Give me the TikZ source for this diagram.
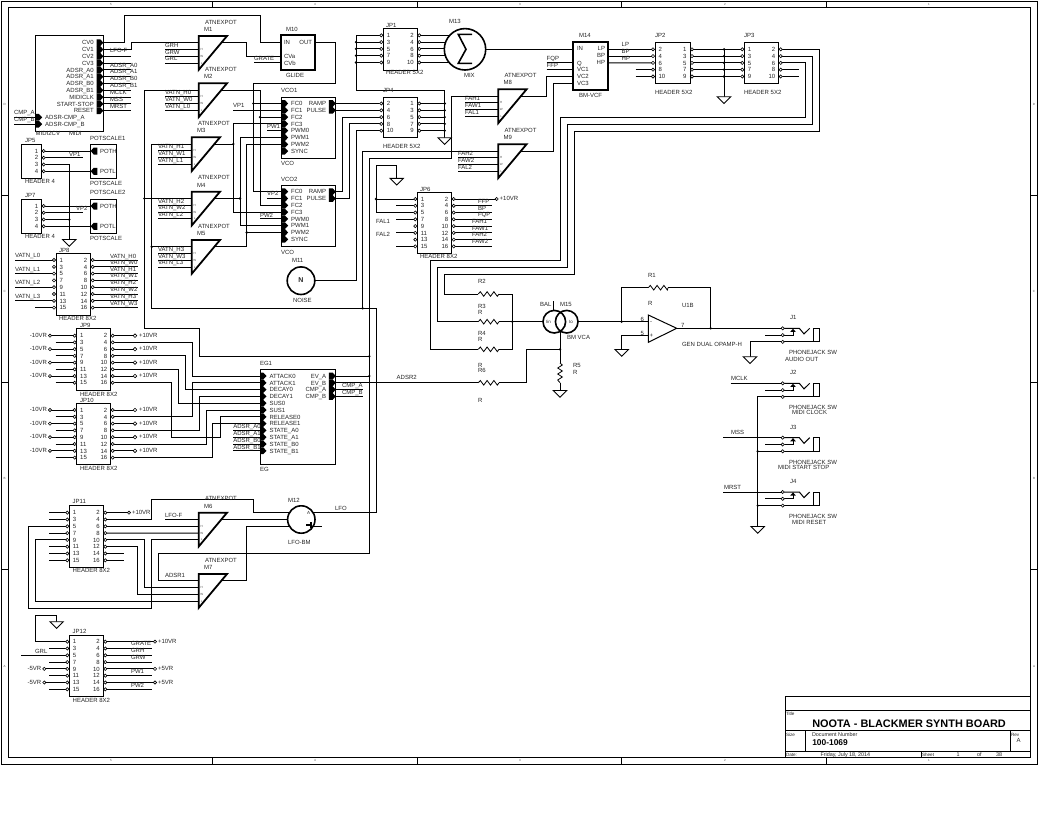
\documentclass[tikz,border=0pt]{standalone}
\usepackage{fontspec}
\setmainfont{Liberation Sans}
\usetikzlibrary{calc}
\pgfdeclarelayer{bg}\pgfdeclarelayer{wires}\pgfsetlayers{bg,wires,main}
\newcount\labn
\tikzset{
  wire/.style={line width=1pt,draw=black},
  fr/.style={line width=1pt,draw=black},
  bx/.style={draw=black,line width=1pt,fill=white,anchor=north west,inner sep=0pt,outer sep=0pt},
  bxt/.style={bx,line width=2pt},
  pinc/.style={draw=black,line width=0.6pt,fill=white},
  lab/.style={inner sep=0pt,outer sep=0pt,text height=4.4pt,text depth=0pt,font=\fontsize{6}{7}\selectfont,text=black!85},
  tiny/.style={inner sep=0pt,outer sep=0pt,font=\fontsize{3}{3}\selectfont,text=black!70},
  bigt/.style={inner sep=0pt,outer sep=0pt,anchor=west,font=\fontsize{10.9}{12}\bfseries\selectfont},
  numt/.style={inner sep=0pt,outer sep=0pt,anchor=west,font=\fontsize{8.4}{10}\bfseries\selectfont},
  comp/.style={draw=black,line width=1.8pt,fill=white},
  roundc/.style={circle,draw=black,line width=1.6pt,fill=white,inner sep=0pt,outer sep=0pt},
}
\newcommand{\lbl}[4][west]{\global\advance\labn by 1 \node[lab,anchor=#1] (t\the\labn) at (#2,#3) {#4};}
\newcommand{\tk}[3]{\global\advance\labn by 1 \node[tiny] (t\the\labn) at (#1,#2) {#3};}
\newcommand{\jn}[2]{\fill[black] (#1,#2) circle (1.3);}
\newcommand{\wto}[2]{\draw[wire] (#1) -- (#2,0 |- #1);}
\newcommand{\hvh}[3]{\draw[wire] (#1) -| (#2,0 |- #3) -- (#3);}
\newcommand{\hdrbox}[9]{%
  \node[bx,minimum width=#4pt,minimum height=#5pt] (#1) at (#2,#3) {};
  \foreach \i in {1,...,#8}{%
    \pgfmathsetmacro\yy{#6+(\i-1)*#7}%
    \pgfmathsetmacro\xr{#2+#4}%
    \pgfmathtruncatemacro\nl{#9+2*(\i-1)}%
    \pgfmathtruncatemacro\nr{3-#9+2*(\i-1)}%
    \coordinate (#1-\nl) at (#2-2,\yy);
    \coordinate (#1-\nr) at (\xr+2,\yy);
    \draw[pinc] (#2-2,\yy) circle (1.6);
    \draw[pinc] (\xr+2,\yy) circle (1.6);
    \lbl{#2+3.5}{\yy}{\nl}
    \lbl[east]{\xr-3.5}{\yy}{\nr}
  }}
\newcommand{\hdrone}[6]{%
  \node[bx,minimum width=#4pt,minimum height=#5pt] (#1) at (#2,#3) {};
  \foreach \i in {1,2,3,4}{%
    \pgfmathsetmacro\yy{#6+(\i-1)*6.75}%
    \pgfmathsetmacro\xr{#2+#4}%
    \coordinate (#1-\i) at (\xr+2,\yy);
    \draw[pinc] (\xr+2,\yy) circle (1.6);
    \lbl[east]{\xr-3.5}{\yy}{\i}
  }}
\newcommand{\pinL}[4]{\coordinate (#1) at (#2,#3);
  \fill[black] (#2,#3-3.4) -- (#2+3.2,#3-3.4) -- (#2+6.5,#3) -- (#2+3.2,#3+3.4) -- (#2,#3+3.4) -- cycle;
  \lbl{#2+9.5}{#3}{#4}}
\newcommand{\pinR}[4]{\coordinate (#1) at (#2,#3);
  \fill[black] (#2-6.8,#3-3.4) -- (#2-3,#3-3.4) -- (#2,#3) -- (#2-3,#3+3.4) -- (#2-6.8,#3+3.4) -- cycle;
  \lbl[east]{#2-9.5}{#3}{#4}}
\newcommand{\pinP}[3]{\coordinate (#1) at (#2,#3);
  \fill[black] (#2,#3) -- (#2+3,#3-3.5) -- (#2+6.6,#3-3.5) -- (#2+6.6,#3+3.5) -- (#2+3,#3+3.5) -- cycle;}
\newcommand{\atnsym}[3]{%
  \draw[comp,line join=miter] (#2,#3) -- (#2+28.3,#3) -- (#2,#3+33.8) -- cycle;
  \coordinate (#1-T) at (#2,#3+6.8);
  \coordinate (#1-H) at (#2,#3+13.6);
  \coordinate (#1-W) at (#2,#3+20.4);
  \coordinate (#1-L) at (#2,#3+27.2);
  \coordinate (#1-O) at (#2+20,#3+6.8);
  \tk{#2+3}{#3+13.6}{H}\tk{#2+3}{#3+20.4}{W}\tk{#2+3}{#3+27.2}{L}
  \lbl{#2+6.3}{#3-14}{ATNEXPOT}
  \lbl{#2+5.3}{#3-6.7}{#1}}
\newcommand{\gndsym}[3]{\coordinate (#1) at (#2,#3);
  \draw[line width=0.9pt,draw=black,fill=white] (#2-6.7,#3) -- (#2+6.7,#3) -- (#2,#3+6.7) -- cycle;}
\newcommand{\resH}[4]{\coordinate (#1-a) at (#2,#4); \coordinate (#1-b) at (#3,#4);
  \draw[wire,line width=0.8pt] (#2,#4) -- (#2+2,#4-2.3) -- (#2+5.4,#4+2.3) -- (#2+8.8,#4-2.3) -- (#2+12.2,#4+2.3) -- (#2+15.6,#4-2.3) -- (#2+19,#4+2.3) -- (#3,#4);}
\newcommand{\resV}[4]{\coordinate (#1-a) at (#2,#3); \coordinate (#1-b) at (#2,#4);
  \draw[wire,line width=0.8pt] (#2,#3) -- (#2+2.3,#3+2) -- (#2-2.3,#3+5) -- (#2+2.3,#3+8) -- (#2-2.3,#3+11) -- (#2+2.3,#3+14) -- (#2-2.3,#3+17) -- (#2,#4);}
\newcommand{\inwire}[3]{\draw[wire] (#2,0 |- #1) -- (#1);
  \global\advance\labn by 1 \node[lab,anchor=west] (t\the\labn) at ($(#2,0 |- #1)+(0,-4.5)$) {#3};}
\newcommand{\termL}[3]{\draw[wire] (#1) -- (#2,0 |- #1); \draw[pinc] (#2,0 |- #1) circle (1.6);
  \global\advance\labn by 1 \node[lab,anchor=east] (t\the\labn) at ($(#2,0 |- #1)+(-3,-0.5)$) {#3};}
\newcommand{\termR}[3]{\draw[wire] (#1) -- (#2,0 |- #1); \draw[pinc] (#2,0 |- #1) circle (1.6);
  \global\advance\labn by 1 \node[lab,anchor=west] (t\the\labn) at ($(#2,0 |- #1)+(3,-0.5)$) {#3};}
\newcommand{\diamR}[2]{\draw[wire] (#1) -- (135,0 |- #1);
  \draw[pinc] ($(135,0 |- #1)+(-1.8,0)$) -- ++(1.8,-1.8) -- ++(1.8,1.8) -- ++(-1.8,1.8) -- cycle;
  \global\advance\labn by 1 \node[lab,anchor=west] (t\the\labn) at ($(135,0 |- #1)+(4,-0.5)$) {#2};}
\newcommand{\jacksym}[2]{%
  \coordinate (#1-t) at (782.7,#2);
  \coordinate (#1-m) at (782.7,#2+6.8);
  \coordinate (#1-r) at (782.7,#2+13.6);
  \draw[wire] (#1-t) -- (799.3,#2) -- (804,#2+5.6) -- (809.7,#2);
  \draw[wire] (#1-m) -- (793,#2+6.8) -- (793,#2+2);
  \fill[black] (790.2,#2+3.6) -- (795.8,#2+3.6) -- (793,#2+0.4) -- cycle;
  \draw[wire] (#1-r) -- (813.3,#2+13.6);
  \draw[fr,fill=white] (813.3,#2) rectangle (819.3,#2+13.6);
  \draw[pinc] (#1-t) circle (1.6);
  \draw[pinc] (#1-m) circle (1.6);
  \draw[pinc] (#1-r) circle (1.6);
  \lbl{790}{#2-10.6}{#1}
  \lbl{789}{#2+24.4}{PHONEJACK SW}}
\begin{document}
\begin{tikzpicture}[x=1pt,y=-1pt]
\useasboundingbox (0,0) rectangle (1056,816);
\begin{pgfonlayer}{bg}\fill[white] (0,0) rectangle (1056,816);\end{pgfonlayer}
% ---------- frame
\draw[fr] (1.5,1.3) rectangle (1037.3,764);
\draw[fr] (8,8) rectangle (1030.7,757);
\foreach \p in {212.5,417,621.5,826}{\draw[fr] (\p,1.3) -- (\p,8); \draw[fr] (\p,757) -- (\p,764);}
\foreach \p in {195.5,382.5,569.5}{\draw[fr] (1.5,\p) -- (8,\p); \draw[fr] (1030.7,\p) -- (1037.3,\p);}
\foreach \p/\q in {111/5,315/4,520/3,725/2,929/1}{\tk{\p}{4.6}{\q}\tk{\p}{760.6}{\q}}
\foreach \p/\q in {104/D,291/C,478/B,666/A}{\tk{4.7}{\p}{\q}\tk{1034}{\p}{\q}}
% ---------- title block
\draw[fr] (785.3,696) rectangle (1030.7,757);
\draw[fr] (785.3,710) -- (1030.7,710);
\draw[fr] (785.3,730) -- (1030.7,730);
\draw[fr] (785.3,751) -- (1030.7,751);
\draw[fr] (805,730) -- (805,751);
\draw[fr] (1010,730) -- (1010,751);
\draw[fr] (921.7,751) -- (921.7,757);
\lbl{786}{713}{\fontsize{4.6}{5}\selectfont Title}
\node[bigt] (title) at (812.3,723.7) {NOOTA - BLACKMER SYNTH BOARD};
\lbl{786}{734}{\fontsize{4.6}{5}\selectfont Size}
\lbl{812}{734}{\fontsize{5.4}{6}\selectfont Document Number}
\node[numt] (docnum) at (812.3,743) {100-1069};
\lbl{1011}{734}{\fontsize{4.6}{5}\selectfont Rev}
\lbl{1016.5}{740}{A}
\lbl{786}{754.3}{\fontsize{4.6}{5}\selectfont Date:}
\lbl{820.5}{754.3}{\fontsize{5.4}{6}\selectfont Friday, July 18, 2014}
\lbl{922}{754.3}{\fontsize{4.6}{5}\selectfont Sheet}
\lbl{956.5}{754.3}{\fontsize{5.4}{6}\selectfont 1}
\lbl{977}{754.3}{\fontsize{5.4}{6}\selectfont of}
\lbl{996}{754.3}{\fontsize{5.4}{6}\selectfont 38}
% ---------- MIDI block
\node[bx,minimum width=67.6pt,minimum height=95.3pt] (MIDI) at (35.7,35.7) {};
\pinR{MD-0}{103.3}{42.7}{CV0}
\pinR{MD-1}{103.3}{49.5}{CV1}
\pinR{MD-2}{103.3}{56.3}{CV2}
\pinR{MD-3}{103.3}{63.1}{CV3}
\pinR{MD-4}{103.3}{69.9}{ADSR\_A0}
\pinR{MD-5}{103.3}{76.7}{ADSR\_A1}
\pinR{MD-6}{103.3}{83.5}{ADSR\_B0}
\pinR{MD-7}{103.3}{90.3}{ADSR\_B1}
\pinR{MD-8}{103.3}{97.1}{MIDICLK}
\pinR{MD-9}{103.3}{103.9}{START-STOP}
\pinR{MD-10}{103.3}{110.7}{RESET}
\pinL{MD-A}{35.7}{117.3}{ADSR-CMP\_A}
\pinL{MD-B}{35.7}{124.2}{ADSR-CMP\_B}
\lbl{35.7}{133.7}{MIDI2CV}
\lbl{69}{133.7}{MIDI}
\lbl{110}{50.7}{LFO-F}
\lbl{110}{64.9}{ADSR\_A0}
\lbl{110}{71.7}{ADSR\_A1}
\lbl{110}{78.7}{ADSR\_B0}
\lbl{110}{85.3}{ADSR\_B1}
\lbl{110}{92}{MCLK}
\lbl{110}{99}{MSS}
\lbl{110}{106}{MRST}
\lbl{14}{112.7}{CMP\_A}
\lbl{14}{119.5}{CMP\_B}
% ---------- pot headers
\hdrone{JP5}{21.7}{144.3}{20}{34}{151}
\lbl{25}{140.7}{JP5}\lbl{25}{181.7}{HEADER 4}
\hdrone{JP7}{21.7}{199.3}{20}{34}{206}
\lbl{25}{195}{JP7}\lbl{25}{236.7}{HEADER 4}
\node[bx,minimum width=26pt,minimum height=34pt] (PS1) at (90.7,144.3) {};
\pinP{PS1-H}{90.7}{151}\pinP{PS1-L}{90.7}{171.25}
\lbl{100}{151.5}{POTH}\lbl{100}{171.5}{POTL}
\lbl{90}{138}{POTSCALE1}\lbl{90}{183.3}{POTSCALE}
\node[bx,minimum width=26pt,minimum height=34pt] (PS2) at (90.7,199.3) {};
\pinP{PS2-H}{90.7}{206}\pinP{PS2-L}{90.7}{226.25}
\lbl{100}{206}{POTH}\lbl{100}{226.2}{POTL}
\lbl{90}{192}{POTSCALE2}\lbl{90}{238.7}{POTSCALE}
\lbl{69}{154}{VP1}\lbl{76}{208}{VP2}
\gndsym{G-P}{69.3}{239.5}
% ---------- triangles
\atnsym{M1}{198.7}{36}
\atnsym{M2}{198.7}{83.3}
\atnsym{M3}{191.7}{137.3}
\atnsym{M4}{191.7}{191.7}
\atnsym{M5}{191.7}{240}
\atnsym{M6}{198.7}{512.7}
\atnsym{M7}{198.7}{574}
\atnsym{M8}{498.3}{89.3}
\atnsym{M9}{498.3}{144.2}
% ---------- M10 glide
\node[bxt,minimum width=34pt,minimum height=35pt] (GLIDE) at (281,35) {};
\coordinate (M10-IN) at (281,42.7);
\coordinate (M10-OUT) at (315,42.7);
\coordinate (M10-A) at (281,56.2);
\coordinate (M10-B) at (281,62.7);
\lbl{284}{42.7}{IN}\lbl[east]{312}{42.7}{OUT}\lbl{284}{56}{CVa}\lbl{284}{63}{CVb}
\lbl{286}{29}{M10}\lbl{286}{75}{GLIDE}
\lbl{254}{58}{GRATE}
% ---------- VCOs
\node[bx,minimum width=54pt,minimum height=61pt] (VCO1) at (281.7,97.3) {};
\node[bx,minimum width=54pt,minimum height=61.7pt] (VCO2) at (281.7,185) {};
\foreach \k/\y/\t in {0/103.5/FC0,1/110.3/FC1,2/117.1/FC2,3/123.9/FC3,4/130.7/PWM0,5/137.5/PWM1,6/144.3/PWM2,7/151.1/SYNC}{\pinL{V1-\k}{281.7}{\y}{\t}}
\foreach \k/\y/\t in {0/191.7/FC0,1/198.5/FC1,2/205.3/FC2,3/212.1/FC3,4/218.9/PWM0,5/225.7/PWM1,6/232.5/PWM2,7/239.3/SYNC}{\pinL{V2-\k}{281.7}{\y}{\t}}
\pinR{V1-R}{335.7}{103.5}{RAMP}\pinR{V1-P}{335.7}{110.3}{PULSE}
\pinR{V2-R}{335.7}{191.7}{RAMP}\pinR{V2-P}{335.7}{198.5}{PULSE}
\lbl{281}{90}{VCO1}\lbl{281}{163.7}{VCO}
\lbl{281}{179}{VCO2}\lbl{281}{252}{VCO}
\lbl{233}{105.7}{VP1}\lbl{267}{126}{PW1}\lbl{267}{193}{VP2}\lbl{260}{215}{PW2}
% ---------- noise
\node[roundc,minimum size=27.6pt] (M11) at (301,280.7) {};
\lbl[center]{301}{280.7}{\fontsize{7}{8}\bfseries\selectfont N}
\lbl{292}{260.7}{M11}\lbl{293}{300}{NOISE}
% ---------- JP8, JP9, JP10
\hdrbox{JP8}{56}{253.3}{34.7}{62}{260}{6.8}{8}{1}
\lbl{59}{250}{JP8}\lbl{59}{318}{HEADER 8X2}
\hdrbox{JP9}{76.7}{328.3}{34}{62.4}{335.7}{6.72}{8}{1}
\lbl{80}{325}{JP9}\lbl{80}{394}{HEADER 8X2}
\hdrbox{JP10}{76.7}{403.3}{34}{61}{410}{6.8}{8}{1}
\lbl{80}{400}{JP10}\lbl{80}{468}{HEADER 8X2}
% ---------- EG
\node[bx,minimum width=75.7pt,minimum height=94.7pt] (EG1) at (260,369.3) {};
\foreach \k/\y/\t in {0/376/ATTACK0,1/382.8/ATTACK1,2/389.6/DECAY0,3/396.4/DECAY1,4/403.2/SUS0,5/410/SUS1,6/416.8/RELEASE0,7/423.6/RELEASE1,8/430.4/STATE\_A0,9/437.2/STATE\_A1,10/444/STATE\_B0,11/450.8/STATE\_B1}{\pinL{EG-\k}{260}{\y}{\t}}
\pinR{EG-R0}{335.7}{376}{EV\_A}\pinR{EG-R1}{335.7}{382.8}{EV\_B}
\pinR{EG-R2}{335.7}{389.6}{CMP\_A}\pinR{EG-R3}{335.7}{396.4}{CMP\_B}
\lbl{260}{363}{EG1}\lbl{260}{469.7}{EG}
\lbl{342}{385}{CMP\_A}\lbl{342}{392}{CMP\_B}
\lbl{233.3}{426}{ADSR\_A0}\lbl{233.3}{433}{ADSR\_A1}\lbl{233.3}{440}{ADSR\_B0}\lbl{233.3}{447}{ADSR\_B1}
\lbl{396.7}{377.7}{ADSR2}
% ---------- M13, JP1, JP4
\hdrbox{JP1}{383.3}{28.3}{34}{41.7}{35.3}{6.8}{5}{1}
\lbl{386}{25}{JP1}\lbl{386}{72.7}{HEADER 5X2}
\hdrbox{JP4}{383.3}{97.3}{34}{40}{103.5}{6.8}{5}{2}
\lbl{383}{90}{JP4}\lbl{383}{146.7}{HEADER 5X2}
\node[roundc,minimum size=41.4pt] (M13) at (465,49.3) {};
\draw[line width=1.6pt,line join=miter] (472,34.4) -- (458.3,34.4) -- (466,49.3) -- (458.3,63.3) -- (472,63.3);
\lbl{449}{21.7}{M13}\lbl{464}{75}{MIX}
\gndsym{G-J4}{444.7}{137.7}
% ---------- M14 filter
\node[bxt,minimum width=35pt,minimum height=48.3pt] (M14) at (573.3,41.7) {};
\coordinate (M14-IN) at (573.3,49.3);
\coordinate (M14-Q) at (573.3,62.9);
\coordinate (M14-V1) at (573.3,69.7);
\coordinate (M14-V2) at (573.3,76.5);
\coordinate (M14-V3) at (573.3,83.3);
\coordinate (M14-LP) at (608.3,49.3);
\coordinate (M14-BP) at (608.3,56.1);
\coordinate (M14-HP) at (608.3,62.9);
\lbl{577}{48.7}{IN}\lbl{577}{62.9}{Q}\lbl{577}{69.7}{VC1}\lbl{577}{76.5}{VC2}\lbl{577}{83}{VC3}
\lbl[east]{605}{48.7}{LP}\lbl[east]{605}{55.7}{BP}\lbl[east]{605}{62.7}{HP}
\lbl{579}{35.7}{M14}\lbl{579}{95.7}{BM-VCF}
\lbl{546.7}{58}{FQP}\lbl{546.7}{65}{FFP}
\lbl{621.7}{44.7}{LP}\lbl{621.7}{51}{BP}\lbl{621.7}{58}{HP}
% ---------- JP2, JP3
\hdrbox{JP2}{655}{42.3}{35}{41}{49.3}{6.8}{5}{2}
\lbl{655}{35.7}{JP2}\lbl{655}{92.7}{HEADER 5X2}
\hdrbox{JP3}{744.3}{42.3}{34.4}{41}{49.3}{6.8}{5}{1}
\lbl{744}{35.7}{JP3}\lbl{744}{92.7}{HEADER 5X2}
\gndsym{G-J2}{724}{96.7}
% ---------- JP6
\hdrbox{JP6}{417.3}{192.3}{34.4}{61}{199}{6.77}{8}{1}
\lbl{420}{189}{JP6}\lbl{420}{256.7}{HEADER 8X2}
\gndsym{G-J6}{396.7}{178.3}
\lbl{376}{221.7}{FAL1}\lbl{376}{234.5}{FAL2}
\lbl{478}{201}{FFP}\lbl{478}{208}{BP}\lbl{478}{214.7}{FQP}
\lbl{472}{221}{FAH1}\lbl{472}{228}{FAW1}\lbl{472}{234.3}{FAH2}\lbl{472}{241}{FAW2}
% ---------- VCA
\node[circle,fill=white,inner sep=0pt,minimum size=22.6pt] (BG1) at (554.3,321.7) {};
\node[circle,fill=white,inner sep=0pt,minimum size=22.6pt] (BG2) at (566.7,321.7) {};
\node[circle,draw=black,line width=1.6pt,inner sep=0pt,outer sep=0pt,minimum size=22.6pt] (VIN) at (554.3,321.7) {};
\node[circle,draw=black,line width=1.6pt,inner sep=0pt,outer sep=0pt,minimum size=22.6pt] (VOUT) at (566.7,321.7) {};
\lbl{546}{321.7}{\fontsize{4.5}{5}\selectfont Iin}\lbl{569}{321.7}{\fontsize{4.5}{5}\selectfont Io}
\lbl{540}{304}{BAL}\lbl{560}{304}{M15}\lbl{567}{337.7}{BM VCA}
\coordinate (BALT) at (553.3,301);
% ---------- resistors
\lbl{478}{281.7}{R2}\lbl{478}{306.5}{R3}\lbl{478}{312}{R}\lbl{478}{333.7}{R4}\lbl{478}{339.2}{R}
\lbl{478}{365}{R}\lbl{478}{370.7}{R6}\lbl{478}{400}{R}
\lbl{648}{275}{R1}\lbl{648}{303.3}{R}
\lbl{573}{365.7}{R5}\lbl{573}{372}{R}
\gndsym{G-R5}{560}{390.5}
% ---------- opamp
\draw[wire,fill=white] (648.3,315) -- (648.3,342.3) -- (676.7,328.3) -- cycle;
\coordinate (U1-m) at (648.3,321.7);
\coordinate (U1-p) at (648.3,335.7);
\coordinate (U1-o) at (676.7,328.3);
\lbl{650}{321.5}{-}\lbl{649.7}{335.2}{+}
\lbl{640.5}{319}{6}\lbl{640.5}{333}{5}\lbl{681}{325}{7}
\lbl{682}{305}{U1B}\lbl{682}{344.7}{GEN DUAL OPAMP-H}
\gndsym{G-U}{621.7}{349.5}
% ---------- jacks
\jacksym{J1}{328.3}
\jacksym{J2}{383.3}
\jacksym{J3}{437.7}
\jacksym{J4}{492}
\lbl{785}{359}{AUDIO OUT}
\lbl{792}{412.7}{MIDI CLOCK}
\lbl{778}{467.7}{MIDI START STOP}
\lbl{792}{522}{MIDI RESET}
\lbl{731}{378}{MCLK}\lbl{731}{432.7}{MSS}\lbl{724}{487.3}{MRST}
\gndsym{G-J1}{750}{356.7}
\gndsym{G-J}{757.7}{526.5}
% ---------- M12
\node[roundc,minimum size=27.4pt] (M12) at (301.3,519.5) {};
\draw[line width=1.6pt] (306,525.2) -- (311.5,525.2) (311,522) -- (311,528);
\lbl{307}{512.7}{\fontsize{4.5}{5}\selectfont A}
\coordinate (M12-I) at (295,512.5);
\coordinate (M12-O) at (306,512.5);
\coordinate (M12-X) at (321.7,526.3);
\lbl{288}{500}{M12}\lbl{288}{542.7}{LFO-BM}\lbl{335}{508}{LFO}
% ---------- JP11, JP12
\hdrbox{JP11}{69.3}{505.7}{34}{61.6}{512.7}{6.8}{8}{1}
\lbl{72.7}{501.7}{JP11}\lbl{72.7}{570.7}{HEADER 8X2}
\hdrbox{JP12}{69.3}{635}{34}{61.7}{641.7}{6.8}{8}{1}
\lbl{72.7}{631.7}{JP12}\lbl{72.7}{700}{HEADER 8X2}
\gndsym{G-J12}{56.7}{621.7}
\lbl{35}{651}{GRL}
\lbl{131}{643.7}{GRATE}\lbl{131}{650.3}{GRH}\lbl{131}{657.7}{GRW}
\lbl{131}{671.7}{PW1}\lbl{131}{685}{PW2}
% ========== wires
\begin{pgfonlayer}{wires}
% resistors
\resH{R2}{478.3}{499}{294}
\resH{R3}{478.3}{499}{321.7}
\resH{R4}{478.3}{499}{349.3}
\resH{R6}{478.3}{499}{382.8}
\resH{R1}{648.3}{668}{287.7}
\resV{R5}{560}{363}{382.7}
% MIDI
\draw[wire] (MD-0) -| (124.3,15.3) -| (260.7,0 |- M10-IN) -- (M10-IN);
\hvh{MD-1}{131}{M1-T}
\hvh{M1-O}{246.7}{M10-A}
\draw[wire] (254,0 |- M10-B) -- (M10-B);
\foreach \k in {2,3,4,5,6,7,8,9,10}{\wto{MD-\k}{131}}
\draw[wire] (14,0 |- MD-A) -- (MD-A);
\draw[wire] (14,0 |- MD-B) -- (MD-B);
% pots
\draw[wire] (JP5-1) -- (PS1-H);
\wto{JP5-2}{83.3}
\draw[wire] (JP5-3) -| (G-P);
\draw[wire] (JP5-4) -- (PS1-L);
\draw[wire] (JP7-1) -- (PS2-H);
\wto{JP7-2}{83.3}
\draw[wire] (JP7-3) -- (69.3,0 |- JP7-3);
\jn{69.3}{219.5}
\draw[wire] (JP7-4) -- (PS2-L);
% triangle inputs
\inwire{M1-H}{165}{GRH}
\inwire{M1-W}{165}{GRW}
\inwire{M1-L}{165}{GRL}
\inwire{M2-H}{165}{VATN\_H0}
\inwire{M2-W}{165}{VATN\_W0}
\inwire{M2-L}{165}{VATN\_L0}
\inwire{M3-H}{158}{VATN\_H1}
\inwire{M3-W}{158}{VATN\_W1}
\inwire{M3-L}{158}{VATN\_L1}
\inwire{M4-H}{158}{VATN\_H2}
\inwire{M4-W}{158}{VATN\_W2}
\inwire{M4-L}{158}{VATN\_L2}
\inwire{M5-H}{158}{VATN\_H3}
\inwire{M5-W}{158}{VATN\_W3}
\inwire{M5-L}{158}{VATN\_L3}
\inwire{M8-H}{465}{FAH1}
\inwire{M8-W}{465}{FAW1}
\inwire{M8-L}{465}{FAL1}
\inwire{M9-H}{458}{FAH2}
\inwire{M9-W}{458}{FAW2}
\inwire{M9-L}{458}{FAL2}
% feed buses
\draw[wire] (M2-T) -| (144.3,328) -| (199.3,356.3) -- (369.3,356.3);
\draw[wire] (144.3,0 |- M4-T) -- (M4-T);
\jn{144.3}{198.5}
\draw[wire] (M3-T) -| (151.7,308.3) -- (376.7,308.3) |- (M12-O);
\draw[wire] (151.7,0 |- M5-T) -- (M5-T);
\jn{151.7}{246.8}
\draw[wire] (M9-T) -| (362.7,308.3);
\jn{362.7}{308.3}
\draw[wire] (M8-T) -| (451,158.3) -| (369.3,553.3) -| (158.3,0 |- M7-T) -- (M7-T);
\jn{369.3}{356.3}
\jn{369.3}{376}
\draw[wire] (EG-R0) -- (369.3,0 |- EG-R0);
\draw[wire] (EG-R1) -- (R6-a);
% glide to VCOs
\draw[wire] (M10-OUT) -| (335.7,83.3) -| (253.3,0 |- V2-0) -- (V2-0);
\draw[wire] (253.3,0 |- V1-0) -- (V1-0);
\jn{253.3}{103.5}
\hvh{M2-O}{260}{V2-2}
\draw[wire] (260,0 |- V1-2) -- (V1-2);
\jn{260}{117.1}
\draw[wire] (233.3,0 |- V1-1) -- (V1-1);
\draw[wire] (267.3,0 |- V2-1) -- (V2-1);
\draw[wire] (267.3,0 |- V1-4) -- (V1-4);
\draw[wire] (260,0 |- V2-4) -- (V2-4);
\hvh{V1-3}{233.3}{V2-3}
\draw[wire] (M3-O) -- (233.3,0 |- M3-O);
\jn{233.3}{144.1}
\hvh{V1-5}{240}{V2-5}
\draw[wire] (M4-O) -- (240,0 |- M4-O);
\jn{240}{198.5}
\hvh{V1-6}{246.7}{V2-6}
\draw[wire] (M5-O) -| (246.7,0 |- V2-6);
\jn{246.7}{232.5}
% VCO outs
\draw[wire] (V1-R) -- (JP4-2);
\draw[wire] (V1-P) -- (JP4-4);
\hvh{V2-R}{342.7}{JP4-6}
\hvh{V2-P}{349.3}{JP4-8}
\hvh{M11}{356}{JP4-10}
% JP1/JP4 common
\draw[wire] (JP1-1) -| (356,90) -| (G-J4);
\foreach \k in {3,5,7,9}{\draw[wire] (JP1-\k) -- (356,0 |- JP1-\k); \fill[black] (356,0 |- JP1-\k) circle (1.3);}
\foreach \k in {1,3,5,7,9}{\draw[wire] (JP4-\k) -- (444.7,0 |- JP4-\k); \fill[black] (444.7,0 |- JP4-\k) circle (1.3);}
\foreach \k in {2,4,6,8,10}{\draw[wire] (JP1-\k) -- (465,0 |- JP1-\k);}
\draw[wire] (M13) -- (M14-IN);
% filter
\hvh{M8-O}{546}{M14-V2}
\hvh{M9-O}{553.3}{M14-V3}
\draw[wire] (546.7,0 |- M14-Q) -- (M14-Q);
\draw[wire] (546.7,0 |- M14-V1) -- (M14-V1);
\draw[wire] (M14-LP) -- (JP2-2);
\draw[wire] (M14-BP) -- (JP2-4);
\draw[wire] (M14-HP) -- (JP2-6);
\draw[wire] (635.7,0 |- JP2-8) -- (JP2-8);
\draw[wire] (635.7,0 |- JP2-10) -- (JP2-10);
\foreach \k in {1,3,5,7,9}{\draw[wire] (JP2-\k) -- (JP3-\k); \fill[black] (724,0 |- JP3-\k) circle (1.3);}
\draw[wire] (724,0 |- JP3-1) -- (G-J2);
\draw[wire] (JP3-2) -| (819.3,131) -| (574.3,274) -| (444.3,0 |- R2-a) -- (R2-a);
\draw[wire] (JP3-4) -| (812.3,124.3) -| (567.3,267.3) -| (437.3,0 |- R3-a) -- (R3-a);
\draw[wire] (JP3-6) -| (805.3,117.3) -| (560.7,260) -| (430.7,0 |- R4-a) -- (R4-a);
\wto{JP3-8}{799}
\wto{JP3-10}{799}
% JP6
\draw[wire] (JP6-5) -| (376,165) -| (G-J6);
\draw[wire] (JP6-1) -- (376,0 |- JP6-1);
\jn{376}{199}
\foreach \k in {3,7,11,15}{\draw[wire] (396,0 |- JP6-\k) -- (JP6-\k);}
\termR{JP6-2}{496.7}{+10VR}
\foreach \k in {4,6,8,10,12,14,16}{\wto{JP6-\k}{491.7}}
% resistors & VCA
\draw[wire] (R2-b) -| (512.3,0 |- R4-b) -- (R4-b);
\draw[wire] (R3-b) -- (VIN);
\jn{512.3}{321.7}
\draw[wire] (BALT) -- (553.3,311);
\draw[wire] (560,330) -- (R5-a);
\draw[wire] (R5-b) -- (G-R5);
\draw[wire] (R6-b) -| (526.7,349.3) -- (560,349.3);
\jn{560}{349.3}
\draw[wire] (VOUT) -- (U1-m);
\draw[wire] (621.7,321.7) |- (R1-a);
\jn{621.7}{321.7}
\draw[wire] (R1-b) -| (710.7,0 |- U1-o);
\jn{710.7}{328.3}
\draw[wire] (U1-p) -| (G-U);
\draw[wire] (U1-o) -- (J1-t);
% jacks
\draw[wire] (765,0 |- J1-m) -- (J1-m);
\draw[wire] (765,0 |- J2-m) -- (J2-m);
\draw[wire] (765,0 |- J3-m) -- (J3-m);
\draw[wire] (765,0 |- J4-m) -- (J4-m);
\draw[wire] (J1-r) -| (G-J1);
\draw[wire] (J2-r) -| (G-J);
\draw[wire] (J3-r) -- (757.7,0 |- J3-r);
\draw[wire] (J4-r) -- (757.7,0 |- J4-r);
\jn{757.7}{451.3}
\jn{757.7}{505.6}
\draw[wire] (730.7,0 |- J2-t) -- (J2-t);
\draw[wire] (723.3,0 |- J3-t) -- (J3-t);
\draw[wire] (723.3,0 |- J4-t) -- (J4-t);
% JP8
\foreach \k in {1,5,9,13}{\draw[wire] (15,0 |- JP8-\k) -- (JP8-\k);}
\draw[wire] (35,0 |- JP8-15) -- (JP8-15);
\foreach \k in {2,4,6,8,10,12,14,16}{\wto{JP8-\k}{138.3}}
\lbl{15}{255.7}{VATN\_L0}\lbl{15}{269}{VATN\_L1}\lbl{15}{282.7}{VATN\_L2}\lbl{15}{296}{VATN\_L3}
\lbl{110}{256}{VATN\_H0}\lbl{110}{262.3}{VATN\_W0}\lbl{110}{269.3}{VATN\_H1}\lbl{110}{275.7}{VATN\_W1}
\lbl{110}{282.7}{VATN\_H2}\lbl{110}{289.3}{VATN\_W2}\lbl{110}{296.7}{VATN\_H3}\lbl{110}{303.3}{VATN\_W3}
% JP9, JP10
\foreach \k in {1,5,9,13}{\termL{JP9-\k}{50}{-10VR}\termL{JP10-\k}{50}{-10VR}}
\foreach \k in {3,7,11,15}{\draw[wire] (55.7,0 |- JP9-\k) -- (JP9-\k); \draw[wire] (55.7,0 |- JP10-\k) -- (JP10-\k);}
\foreach \k in {2,6,10,14}{\diamR{JP9-\k}{+10VR}\diamR{JP10-\k}{+10VR}}
\hvh{JP9-4}{192.7}{EG-0}
\hvh{JP9-8}{185}{EG-2}
\hvh{JP9-12}{178.3}{EG-4}
\draw[wire] (JP9-16) -| (171.7,437.3) -| (220,0 |- EG-6) -- (EG-6);
\hvh{JP10-4}{192.7}{EG-1}
\hvh{JP10-8}{199.3}{EG-3}
\hvh{JP10-12}{206}{EG-5}
\hvh{JP10-16}{212.7}{EG-7}
\foreach \k in {8,9,10,11}{\draw[wire] (233.3,0 |- EG-\k) -- (EG-\k);}
\wto{EG-R2}{363}
\wto{EG-R3}{363}
% JP11, M6, M7, M12
\foreach \k in {1,3,7,11,13,15}{\draw[wire] (49,0 |- JP11-\k) -- (JP11-\k);}
\termR{JP11-2}{129}{+10VR}
\wto{JP11-14}{124}
\wto{JP11-16}{124}
\draw[wire] (JP11-4) -| (151.7,499) -| (253.3,0 |- M12-I) -- (M12-I);
\draw[wire] (JP11-6) -- (M6-H);
\draw[wire] (JP11-8) -- (M6-W);
\draw[wire] (JP11-5) -| (28.3,608.3) -| (151.7,0 |- M6-L) -- (M6-L);
\hvh{JP11-10}{144.3}{M7-H}
\hvh{JP11-12}{137.7}{M7-W}
\hvh{JP11-9}{35.3}{M7-L}
\inwire{M6-T}{165}{LFO-F}
\lbl{165}{575.7}{ADSR1}
\draw[wire] (M6-O) -- (M12);
\draw[wire] (M7-O) -| (246.7,0 |- M12-X) -- (M12-X);
% JP12
\draw[wire] (JP12-1) -| (35.3,615) -| (G-J12);
\draw[wire] (21,0 |- JP12-5) -- (JP12-5);
\foreach \k in {3,7,11,15}{\draw[wire] (49,0 |- JP12-\k) -- (JP12-\k);}
\termL{JP12-9}{44.3}{-5VR}
\termL{JP12-13}{44.3}{-5VR}
\termR{JP12-2}{155}{+10VR}
\termR{JP12-10}{155}{+5VR}
\termR{JP12-14}{155}{+5VR}
\foreach \k in {4,6,8,12,16}{\wto{JP12-\k}{152}}
\end{pgfonlayer}
\end{tikzpicture}
\end{document}
